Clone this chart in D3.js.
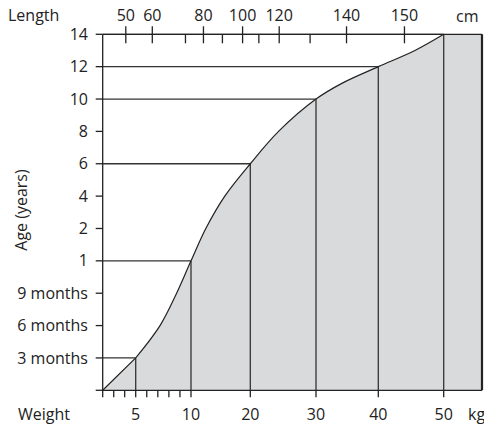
<!DOCTYPE html>
<html lang="en">
<head>
<meta charset="UTF-8">
<title>Age, weight and length</title>
<style>
  body { margin: 0; background: #fff; }
  text { font-family: "Open Sans", Lato, sans-serif; font-size: 16px; fill: #222; }
</style>
<script src="https://d3js.org/d3.v7.min.js"></script>
</head>
<body>
<div id="chart"></div>
<script>
// age ticks (years) and their labels
var ageTicks = [0, 0.25, 0.5, 0.75, 1, 2, 4, 6, 8, 10, 12, 14];
var ageLabels = ["", "3 months", "6 months", "9 months", "1", "2", "4", "6", "8", "10", "12", "14"];

// weight axis (kg)
var weightBreaks = [0, 5, 10, 20, 30, 40, 50];
var weightMinor = [0, 1.67, 3.33, 5, 6, 7, 8, 9, 10, 20, 30, 40, 50];
var weightLabels = [5, 10, 20, 30, 40, 50];

// growth curve
var curveWeight = [0, 5, 7.2, 8.7, 10, 12.5, 15.7, 20, 24.3, 30, 34.3, 40, 45.6, 50];
var curveAge    = [0, 0.25, 0.5, 0.75, 1, 2, 4, 6, 8, 10, 11, 12, 13, 14];

// reference points (weight, age)
var refWeight = [5, 10, 20, 30, 40, 50];
var refAge    = [0.25, 1, 6, 10, 12, 14];

// length (cm) with the weight it lines up with
var lengthCm     = [50, 60, 70, 80, 90, 100, 110, 120, 130, 140, 150];
var lengthWeight = [3.5, 6.5, 9.5, 12.1, 15.3, 18.7, 21.3, 24.4, 29.1, 34.9, 44.0];
var lengthLabeled = [50, 60, 80, 100, 120, 140, 150];

var W = 484, H = 425;
var pLeft = 102.7, pRight = 482, pTop = 34.3, pBottom = 390.3;

var svg = d3.select("#chart").append("svg")
    .attr("width", W)
    .attr("height", H);

var x = d3.scaleLinear()
    .domain(weightBreaks)
    .range([pLeft, 135.7, 191, 250.3, 316, 378.3, 443.7]);

var step = (pBottom - pTop) / (ageTicks.length - 1);
var y = d3.scaleLinear()
    .domain(ageTicks)
    .range(ageTicks.map(function(d, i) { return pBottom - i * step; }));

var pts = curveWeight.map(function(w, i) { return [w, curveAge[i]]; });

// first stretch is straight, the rest is smooth
var smooth = d3.line()
    .x(function(d) { return x(d[0]); })
    .y(function(d) { return y(d[1]); })
    .curve(d3.curveCatmullRom.alpha(0.5));
var curvePath = "M" + x(pts[0][0]) + "," + y(pts[0][1]) + "L" + smooth(pts.slice(1)).slice(1);

svg.append("path")
    .attr("d", curvePath + "L" + x(50) + "," + pBottom + "Z")
    .attr("fill", "#d9dadc");

svg.append("rect")
    .attr("x", x(50))
    .attr("y", pTop)
    .attr("width", pRight - x(50))
    .attr("height", pBottom - pTop)
    .attr("fill", "#d9dadc");

// reference lines
var refs = refWeight.map(function(w, i) { return [w, refAge[i]]; });
svg.selectAll(".hline").data(refs).enter().append("line")
    .attr("x1", pLeft).attr("x2", function(d) { return x(d[0]); })
    .attr("y1", function(d) { return y(d[1]); }).attr("y2", function(d) { return y(d[1]); })
    .attr("stroke", "#333").attr("stroke-width", 1.3);
svg.selectAll(".vline").data(refs).enter().append("line")
    .attr("x1", function(d) { return x(d[0]); }).attr("x2", function(d) { return x(d[0]); })
    .attr("y1", pBottom).attr("y2", function(d) { return y(d[1]); })
    .attr("stroke", "#333").attr("stroke-width", 1.3);

// curve
svg.append("path")
    .attr("d", curvePath)
    .attr("fill", "none")
    .attr("stroke", "#222")
    .attr("stroke-width", 1.2);

// frame
svg.append("line").attr("x1", pLeft).attr("x2", pRight).attr("y1", pBottom).attr("y2", pBottom)
    .attr("stroke", "#222").attr("stroke-width", 1.3);
svg.append("line").attr("x1", pLeft).attr("x2", pRight).attr("y1", pTop).attr("y2", pTop)
    .attr("stroke", "#222").attr("stroke-width", 1.3);
svg.append("line").attr("x1", pLeft).attr("x2", pLeft).attr("y1", pTop).attr("y2", pBottom)
    .attr("stroke", "#222").attr("stroke-width", 1.3);
svg.append("line").attr("x1", pRight).attr("x2", pRight).attr("y1", pTop).attr("y2", pBottom)
    .attr("stroke", "#222").attr("stroke-width", 2.2);

// left axis
svg.selectAll(".ytick").data(ageTicks).enter().append("line")
    .attr("x1", pLeft - 7).attr("x2", pLeft)
    .attr("y1", function(d) { return y(d); }).attr("y2", function(d) { return y(d); })
    .attr("stroke", "#222").attr("stroke-width", 1.3);
svg.selectAll(".ylab").data(ageTicks).enter().append("text")
    .attr("x", 88)
    .attr("y", function(d) { return y(d); })
    .attr("dy", "0.35em")
    .attr("text-anchor", "end")
    .text(function(d, i) { return ageLabels[i]; });

svg.append("text")
    .attr("transform", "translate(27,210) rotate(-90)")
    .attr("text-anchor", "middle")
    .text("Age (years)");

// bottom axis
svg.selectAll(".xtick").data(weightMinor).enter().append("line")
    .attr("x1", function(d) { return x(d); }).attr("x2", function(d) { return x(d); })
    .attr("y1", pBottom).attr("y2", pBottom + 7)
    .attr("stroke", "#222").attr("stroke-width", 1.3);
svg.selectAll(".xlab").data(weightLabels).enter().append("text")
    .attr("x", function(d) { return x(d); })
    .attr("y", 420)
    .attr("text-anchor", "middle")
    .text(function(d) { return d; });
svg.append("text").attr("x", 18).attr("y", 420).text("Weight");
svg.append("text").attr("x", 468).attr("y", 420).text("kg");

// top axis (length)
svg.selectAll(".ltick").data(lengthCm).enter().append("line")
    .attr("x1", function(d, i) { return x(lengthWeight[i]); })
    .attr("x2", function(d, i) { return x(lengthWeight[i]); })
    .attr("y1", function(d) { return lengthLabeled.indexOf(d) >= 0 ? pTop - 8 : pTop; })
    .attr("y2", pTop + 9)
    .attr("stroke", "#222").attr("stroke-width", 1.3);
svg.selectAll(".llab").data(lengthCm.filter(function(d) { return lengthLabeled.indexOf(d) >= 0; }))
    .enter().append("text")
    .attr("x", function(d) { return x(lengthWeight[lengthCm.indexOf(d)]); })
    .attr("y", 21)
    .attr("text-anchor", "middle")
    .text(function(d) { return d; });
svg.append("text").attr("x", 8).attr("y", 21).text("Length");
svg.append("text").attr("x", 456).attr("y", 22).text("cm");
</script>
</body>
</html>
